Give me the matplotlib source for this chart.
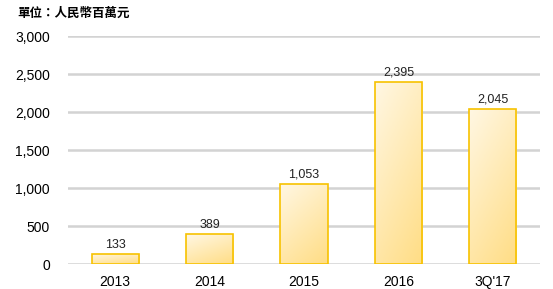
import numpy as np
import matplotlib.pyplot as plt
from matplotlib.colors import LinearSegmentedColormap

plt.rcParams['font.family'] = ['Liberation Sans', 'Noto Sans CJK TC', 'DejaVu Sans']

categories = ['2013', '2014', '2015', '2016', "3Q'17"]
values = [133, 389, 1053, 2395, 2045]
labels = ['133', '389', '1,053', '2,395', '2,045']
yticks = [0, 500, 1000, 1500, 2000, 2500, 3000]

fig = plt.figure(figsize=(5.53, 2.89), dpi=100)
ax = fig.add_axes([68/553, 25/289, 472/553, 228/289])

x = np.arange(len(categories))
bars = ax.bar(x, values, width=0.5, facecolor='none', edgecolor='#F7C200', linewidth=1.2, zorder=3)

# light top-left -> deeper yellow bottom-right
cmap = LinearSegmentedColormap.from_list('g', ['#FFF7E3', '#FFDD85'])
gx, gy = np.meshgrid(np.linspace(0, 1, 50), np.linspace(0, 1, 50))
grad = 0.35 * gx + 0.65 * gy
for b in bars:
    x0, y0 = b.get_x(), b.get_y()
    w, h = b.get_width(), b.get_height()
    im = ax.imshow(grad, cmap=cmap, extent=[x0, x0 + w, y0, y0 + h], aspect='auto',
                   origin='upper', zorder=2, vmin=0, vmax=1)
    im.set_clip_path(b)

for xi, v, lab in zip(x, values, labels):
    ax.text(xi, v + 40, lab, ha='center', va='bottom', fontsize=9, color='#222222')

ax.set_xlim(-0.5, 4.5)
ax.set_ylim(0, 3000)
ax.set_yticks(yticks)
ax.set_yticklabels(['{:,}'.format(t) for t in yticks], fontsize=10)
ax.set_xticks(x)
ax.set_xticklabels(categories, fontsize=10)
ax.tick_params(length=0, pad=8)
ax.tick_params(axis='y', pad=13)
ax.grid(axis='y', color='#D3D3D3', linewidth=1.8, zorder=0)
ax.set_axisbelow(True)
for s in ax.spines.values():
    s.set_visible(False)

fig.text(17/553, 1 - 13/289, '單位：人民幣百萬元', fontsize=9, fontweight='bold',
         family=['Noto Sans CJK TC'], va='center', ha='left')

fig.savefig('out.png', dpi=100)
